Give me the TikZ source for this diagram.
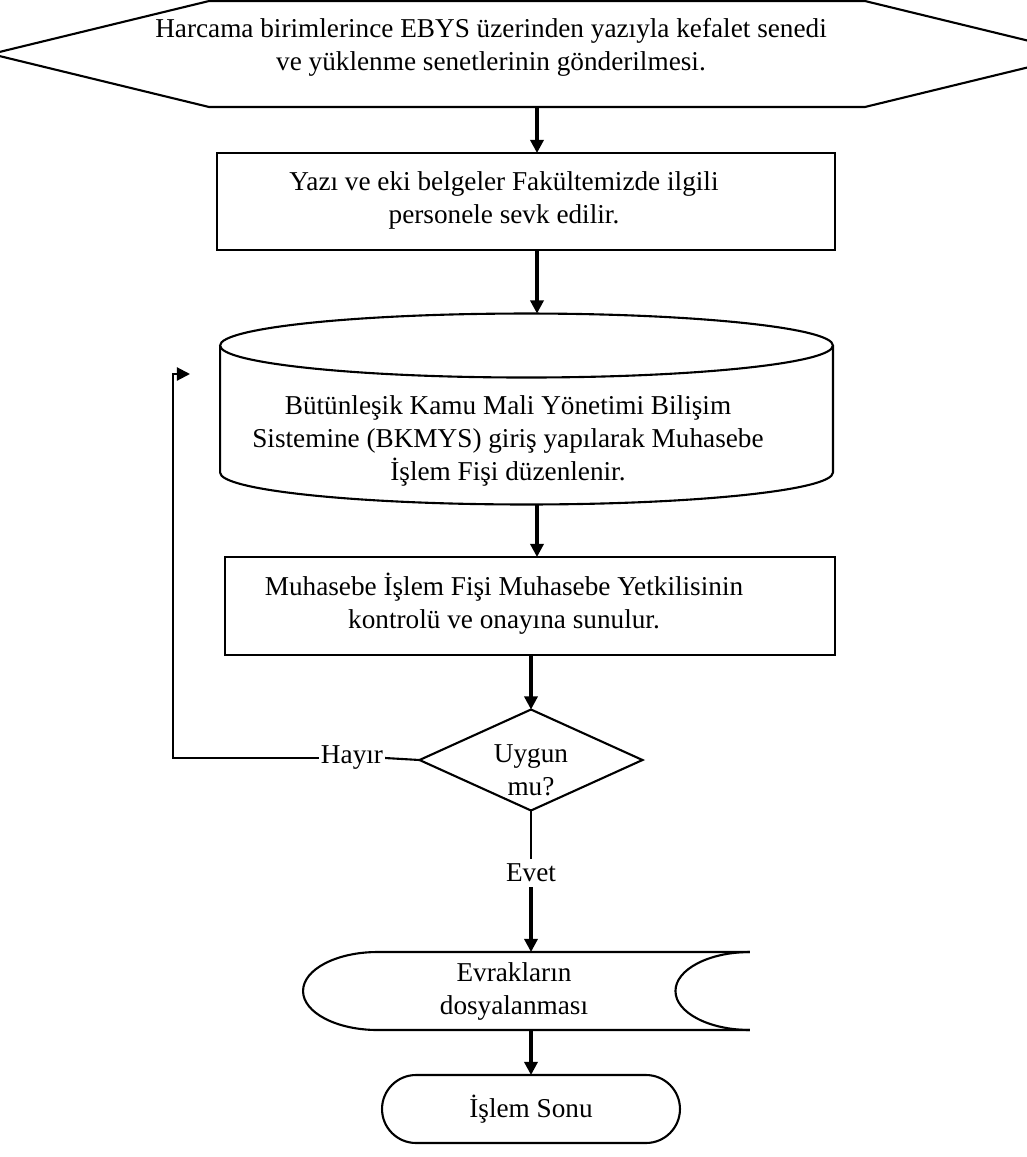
\documentclass[tikz,border=0pt]{standalone}
\usepackage{fontspec}
\setmainfont{Liberation Serif}
\usetikzlibrary{arrows.meta,shapes.geometric,shapes.misc,positioning}

\begin{document}
\begin{tikzpicture}[
  x=0.02cm, y=-0.02cm,
  txt/.style={align=center, inner sep=0pt, font=\fontsize{15.5}{18.8}\selectfont},
  ghost/.style={inner sep=0pt, outer sep=0pt},
  wire/.style={line width=1.2pt},
  cell/.style={ghost, draw, wire},
  ask/.style={cell, diamond, minimum width=4.46cm, minimum height=2.02cm},
  stop/.style={cell, rounded rectangle, minimum width=5.96cm, minimum height=1.36cm, txt},
  flow/.style={line width=1.8pt, -{Triangle[length=7.5pt, width=7.5pt]}}
  ]
  \useasboundingbox (0,0) rectangle (1027,1157);

  \node[ghost, minimum width=13.12cm, minimum height=2.12cm] (ebys) at (537,54) {};
  \draw[wire] (ebys.north west) -- (ebys.north east) -- ([xshift=4.36cm]ebys.east)
    -- (ebys.south east) -- (ebys.south west) -- ([xshift=-4.36cm]ebys.west) -- cycle;
  \node[txt] (ebys-t) at (491,47) {Harcama birimlerince EBYS üzerinden yazıyla kefalet senedi\\ve yüklenme senetlerinin gönderilmesi.};

  \node[cell, minimum width=12.36cm, minimum height=1.94cm] (sevk) at (526,201.5) {};
  \node[txt] (sevk-t) at (504,200) {Yazı ve eki belgeler Fakültemizde ilgili\\personele sevk edilir.};

  \node[ghost, minimum width=12.26cm, minimum height=3.82cm] (bkmys) at (526.5,409) {};
  \draw[wire] ([yshift=-0.64cm]bkmys.north) ellipse [x radius=6.13cm, y radius=0.64cm];
  \draw[wire] ([yshift=-0.64cm]bkmys.north west) -- ([yshift=0.64cm]bkmys.south west)
    arc [start angle=180, end angle=360, x radius=6.13cm, y radius=0.64cm]
    -- ([yshift=-0.64cm]bkmys.north east);
  \node[txt] (bkmys-t) at (508,441) {Bütünleşik Kamu Mali Yönetimi Bilişim\\Sistemine (BKMYS) giriş yapılarak Muhasebe\\İşlem Fişi düzenlenir.};

  \node[cell, minimum width=12.2cm, minimum height=1.96cm] (onay) at (530,606) {};
  \node[txt] (onay-t) at (504,604) {Muhasebe İşlem Fişi Muhasebe Yetkilisinin\\kontrolü ve onayına sunulur.};

  \node[ask] (uygun) at (531,760) {};
  \node[txt] (uygun-t) at (531,770) {Uygun\\mu?};
  \node[txt, inner sep=1pt] (hayir) at (352,758) {Hayır};
  \node[txt] (evet) at (531,873) {Evet};
  \coordinate (geri) at (190,374);

  \node[ghost, minimum width=8.94cm, minimum height=1.56cm] (evrak) at (526.5,991) {};
  \draw[wire] (evrak.north east) -- ([xshift=1.49cm]evrak.north west)
    arc [start angle=90, end angle=270, x radius=1.49cm, y radius=0.78cm]
    -- (evrak.south east);
  \draw[wire] (evrak.north east)
    arc [start angle=90, end angle=270, x radius=1.49cm, y radius=0.78cm];
  \node[txt] (evrak-t) at (514,991) {Evrakların\\dosyalanması};

  \node[stop] (son) at (531,1109) {İşlem Sonu};

  \draw[flow] (ebys.south) -- (ebys.south |- sevk.north);
  \draw[flow] (ebys.south |- sevk.south) -- (ebys.south |- bkmys.north);
  \draw[flow] (ebys.south |- bkmys.south) -- (ebys.south |- onay.north);
  \draw[flow] (uygun.north |- onay.south) -- (uygun.north);
  \draw[wire] (uygun.west) -- (hayir.east);
  \draw[flow, wire] (hayir.west) -| ([xshift=-0.34cm]geri) -- (geri);
  \draw[wire] (uygun.south) -- ([yshift=0.1cm]evet.north);
  \draw[flow] ([yshift=-0.1cm]evet.south) -- (evet.south |- evrak.north);
  \draw[flow] (evet.south |- evrak.south) -- (son.north);
\end{tikzpicture}
\end{document}
